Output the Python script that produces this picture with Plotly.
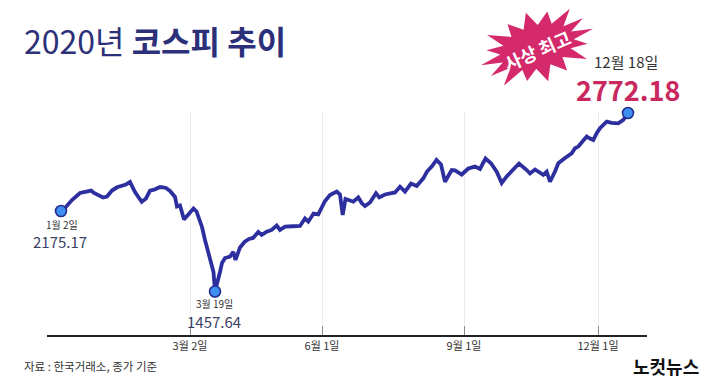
import math
import plotly.graph_objects as go

# ---------------- data ----------------
# position along the time axis (chart units) and KOSPI level as drawn
pos = [61, 65, 72, 80, 84, 88, 91, 94, 99, 103,
       107, 112, 117, 122, 126, 130, 132, 135, 138, 141.7,
       146, 150, 155, 160, 163, 166, 170, 175, 177, 180,
       184, 188.3, 193.5, 196.5, 200, 202, 205, 210, 213.5, 215,
       217.5, 220, 222, 225, 230, 233.3, 235.5, 240, 244.5, 249,
       253, 258.3, 261.7, 266.7, 271.7, 276.7, 280, 285, 293, 300,
       305, 308.3, 313.5, 318.3, 325, 330, 336.7, 340, 342.7, 345.5,
       350, 353.3, 358.3, 361.7, 365, 368.3, 370, 376, 379.3, 385,
       390, 395, 400, 405, 411, 416.7, 423.3, 427, 431.7, 436.5,
       441, 445, 451.7, 455, 461.7, 468.3, 475, 480, 485.5, 491,
       496.7, 501.7, 506.7, 513, 519, 526.7, 530, 535, 540, 543.3,
       546.7, 550, 555, 558.3, 565, 571.7, 575, 578.3, 583.3, 586.7,
       589, 593.3, 596.7, 600, 606.7, 611.7, 618.3, 623.3, 628]

kospi = [2050, 2073, 2131, 2183, 2190, 2194, 2201, 2183, 2161, 2150,
         2157, 2201, 2225, 2235, 2246, 2264, 2231, 2190, 2157, 2119,
         2143, 2201, 2210, 2227, 2225, 2220, 2198, 2154, 2084, 2091,
         1988, 2021, 2069, 2047, 1969, 1933, 1837, 1704, 1601, 1457.64,
         1520, 1601, 1668, 1704, 1715, 1749, 1690, 1782, 1822, 1844,
         1852, 1896, 1874, 1898, 1911, 1944, 1911, 1935, 1938, 1940,
         1995, 1972, 2032, 2025, 2124, 2168, 2193, 2172, 2021, 2139,
         2128, 2119, 2150, 2109, 2087, 2107, 2113, 2181, 2151, 2172,
         2181, 2187, 2229, 2193, 2253, 2235, 2291, 2341, 2378, 2426,
         2393, 2266, 2352, 2349, 2319, 2363, 2378, 2360, 2437, 2402,
         2340, 2257, 2305, 2352, 2400, 2352, 2327, 2356, 2334, 2316,
         2340, 2266, 2341, 2402, 2441, 2475, 2512, 2525, 2570, 2599,
         2588, 2573, 2623, 2660, 2708, 2699, 2696, 2721, 2772.18]

key_idx = [0, 39, 128]          # 1월 2일, 3월 19일, 12월 18일
key_dates = ["1월 2일", "3월 19일", "12월 18일"]
key_values = ["2175.17", "1457.64", "2772.18"]

tick_pos = [190, 322, 464, 598]
tick_labels = ["3월 2일", "6월 1일", "9월 1일", "12월 1일"]

title_year = "2020년"
title_main = "코스피 추이"
badge_text = "사상 최고"
source_text = "자료 : 한국거래소, 종가 기준"
logo_text = "노컷뉴스"

# ---------------- layout helpers ----------------
PAGE_OFF = 8                       # default body margin of the html page
W, H = 710 - PAGE_OFF, 380 - PAGE_OFF
L, R, T, B = 47, 647, 112, 335     # plot area in picture pixels
FONT = "Noto Sans CJK KR"
NAVY = "#2c3079"
LINE = "#2d2f9f"
MAGENTA = "#c9285f"


def fx(x):
    return (x - L) / (R - L)


def fy(y):
    return (B - y) / (B - T)


fig = go.Figure()

fig.add_trace(go.Scatter(
    x=pos, y=kospi, mode="lines",
    line=dict(color=LINE, width=3.8),
    hoverinfo="skip", cliponaxis=False,
))
fig.add_trace(go.Scatter(
    x=[pos[i] for i in key_idx], y=[kospi[i] for i in key_idx],
    mode="markers",
    marker=dict(size=11, color="#3d8ff2", line=dict(color="#262c8e", width=1.6)),
    hoverinfo="skip", cliponaxis=False,
))

# starburst badge
cx, cy = 537, 47
rot = math.radians(-18)
n = 16
jit = [1.0, 0.9, 1.05, 0.95, 1.0, 0.88, 1.04, 0.97, 1.0, 0.9, 1.05, 0.93, 1.0, 0.92, 1.03, 0.96]
pts = []
for k in range(2 * n):
    a = math.pi * k / n
    if k % 2 == 0:
        rx, ry = 59 * jit[k // 2], 36 * jit[k // 2]
    else:
        rx, ry = 38, 21
    ex, ey = rx * math.cos(a), ry * math.sin(a)
    X = cx + ex * math.cos(rot) - ey * math.sin(rot)
    Y = cy + ex * math.sin(rot) + ey * math.cos(rot)
    pts.append((fx(X), fy(Y)))
path = "M " + " L ".join(f"{p[0]:.4f},{p[1]:.4f}" for p in pts) + " Z"
fig.add_shape(type="path", path=path, xref="paper", yref="paper",
              fillcolor="#d42a6c", line=dict(width=0), layer="above")

ann = []


def add(x, y, text, size, color, xanchor="center", angle=0):
    ann.append(dict(x=fx(x), y=fy(y), xref="paper", yref="paper", xanchor=xanchor, yanchor="middle",
                    text=text, showarrow=False, textangle=angle,
                    font=dict(family=FONT, size=size, color=color)))


add(22, 40, f"{title_year} <b>{title_main}</b>", 32, NAVY, xanchor="left")
add(537, 50, f"<b>{badge_text}</b>", 18, "white", angle=-24)
add(626, 61, key_dates[2], 15, "#333333")
add(628, 90, f"<b>{key_values[2]}</b>", 27, MAGENTA)
add(62, 224, key_dates[0], 10, "#333333")
add(60, 241, key_values[0], 15, "#3b4266")
add(214, 303, key_dates[1], 10, "#333333")
add(214, 321, key_values[1], 15, "#3b4266")
add(22, 366, source_text, 11.5, "#333333", xanchor="left")
add(701, 366, f"<b>{logo_text}</b>", 18, "#111111", xanchor="right")

fig.update_layout(
    width=W, height=H,
    margin=dict(l=L - PAGE_OFF, r=W - (R - PAGE_OFF), t=T - PAGE_OFF, b=H - (B - PAGE_OFF), pad=0),
    paper_bgcolor="white", plot_bgcolor="white",
    showlegend=False,
    annotations=ann,
    xaxis=dict(range=[L, R], tickvals=tick_pos, ticktext=tick_labels,
               showline=True, linecolor="#222222", linewidth=1.5,
               ticks="inside", ticklen=9, tickcolor="#8a8a8a", tickwidth=1,
               showgrid=True, gridcolor="#ececec", gridwidth=1, zeroline=False,
               tickfont=dict(family=FONT, size=11, color="#333333"), fixedrange=True),
    yaxis=dict(range=[1137.3, 2779.5], visible=False, showgrid=False, zeroline=False, fixedrange=True),
)

fig.write_html("out.html")
